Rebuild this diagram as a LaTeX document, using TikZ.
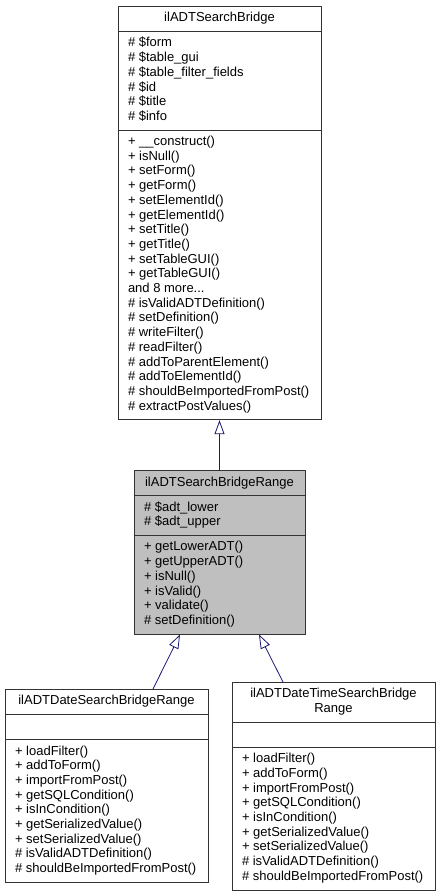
\documentclass[tikz,border=0pt]{standalone}
\usepackage{fontspec}
\setmainfont{Liberation Sans}
\usepackage{xcolor}
\usepackage{tikz}
\usetikzlibrary{shapes.multipart, positioning, arrows.meta}

\definecolor{edgeblue}{RGB}{25,25,112}
\newcommand{\members}[1]{\begin{tabular}{@{}l@{}}#1\end{tabular}}
\newcommand{\classname}[1]{\begin{tabular}{@{}c@{}}#1\end{tabular}}

\begin{document}
\begin{tikzpicture}[
        x=1pt, y=-1pt,
        every node/.style={font=\fontsize{13}{14.7}\selectfont},
        class/.style={draw=black!80, fill=white, line width=0.8pt, rectangle split, rectangle split parts=3, rectangle split part align={center,left,left}, rectangle split empty part height=10.3pt, rectangle split empty part depth=4.4pt, inner xsep=10pt, inner ysep=4.8pt, anchor=north, minimum width=203pt},
        current/.style={fill=black!25, minimum width=171pt},
        inherit/.style={-{Triangle[open,length=14pt,width=10pt]}, draw=edgeblue, line width=0.8pt},
        ]
      \useasboundingbox (0,0) rectangle (440,896);

      \node [class] (bridge) at (219.5,6) {\classname{ilADTSearchBridge}
        \nodepart{two}\members{\# \$form\\ \# \$table\_gui\\ \# \$table\_filter\_fields\\ \# \$id\\ \# \$title\\ \# \$info}
        \nodepart{three}\members{+ \_\_construct()\\ + isNull()\\ + setForm()\\ + getForm()\\ + setElementId()\\ + getElementId()\\ + setTitle()\\ + getTitle()\\ + setTableGUI()\\ + getTableGUI()\\ and 8 more...\\ \# isValidADTDefinition()\\ \# setDefinition()\\ \# writeFilter()\\ \# readFilter()\\ \# addToParentElement()\\ \# addToElementId()\\ \# shouldBeImportedFromPost()\\ \# extractPostValues()}};
      \node [class, current, below=50pt of bridge] (range) {\classname{ilADTSearchBridgeRange}
        \nodepart{two}\members{\# \$adt\_lower\\ \# \$adt\_upper}
        \nodepart{three}\members{+ getLowerADT()\\ + getUpperADT()\\ + isNull()\\ + isValid()\\ + validate()\\ \# setDefinition()}};
      \node [class] (date) at (106.5,689) {\classname{ilADTDateSearchBridgeRange}
        \nodepart{two}
        \nodepart{three}\members{+ loadFilter()\\ + addToForm()\\ + importFromPost()\\ + getSQLCondition()\\ + isInCondition()\\ + getSerializedValue()\\ + setSerializedValue()\\ \# isValidADTDefinition()\\ \# shouldBeImportedFromPost()}};
      \node [class] (datetime) at (333.5,682) {\classname{ilADTDateTimeSearchBridge\\ Range}
        \nodepart{two}
        \nodepart{three}\members{+ loadFilter()\\ + addToForm()\\ + importFromPost()\\ + getSQLCondition()\\ + isInCondition()\\ + getSerializedValue()\\ + setSerializedValue()\\ \# isValidADTDefinition()\\ \# shouldBeImportedFromPost()}};

      \draw[inherit] (range.north) -- (bridge.south);
      \draw[inherit] ([xshift=46.5pt]date.north) -- ([xshift=-39.5pt]range.south);
      \draw[inherit] ([xshift=-50.5pt]datetime.north) -- ([xshift=39.5pt]range.south);
    \end{tikzpicture}
\end{document}
